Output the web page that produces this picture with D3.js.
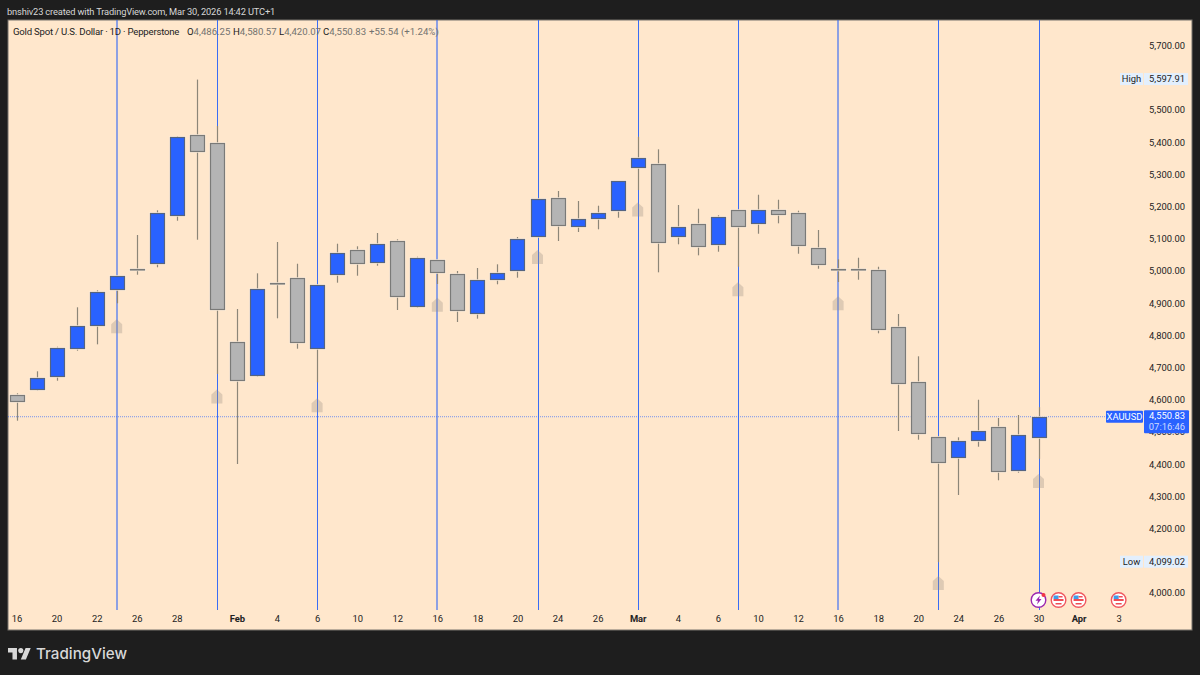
<!DOCTYPE html>
<html>
<head>
<meta charset="utf-8">
<script src="https://cdn.jsdelivr.net/npm/d3@7"></script>
<style>
  html, body { margin: 0; padding: 0; background: #1e1e1e; }
  svg { display: block; }
  text { font-family: Roboto, sans-serif; }
</style>
</head>
<body>
<script>
// OHLC diario
const barIndex = d3.range(52);
const opens  = [4617.4,4636.0,4674.2,4760.2,4831.6,4944.4,5010.0,5022.9,5173.3,5424.8,5401.8,4782.0,4676.4,4965.8,4981.6,4762.1,4991.0,5069.5,5027.3,5096.6,4891.6,5036.6,4993.1,4870.8,4976.4,5004.3,5109.9,5231.0,5142.2,5165.8,5188.8,5322.3,5334.7,5109.9,5150.3,5085.1,5191.9,5149.3,5191.9,5182.6,5075.7,5009.5,5009.5,5005.5,4829.5,4658.7,4487.9,4420.5,4476.4,4518.0,4383.2,4486.25];
const highs  = [4623.6,4691.9,4768.3,4890.7,4943.4,4988.0,5115.2,5191.9,5422.6,5597.91,5453.7,4885.4,4996.2,5093.4,5026.0,4962.0,5088.2,5080.1,5121.4,5101.8,5047.8,5037.0,5003.4,5012.7,5024.2,5109.0,5229.0,5251.8,5220.8,5206.2,5283.0,5420.5,5381.3,5208.4,5196.9,5176.4,5193.0,5240.3,5224.8,5190.7,5130.7,5039.7,5044.7,5016.7,4869.8,4738.5,4490.0,4486.9,4603.7,4546.9,4556.2,4580.57];
const lows   = [4538.5,4631.6,4662.7,4755.9,4775.7,4903.1,4991.9,5014.9,5159.6,5100.6,4683.5,4404.0,4674.2,4856.5,4762.1,4657.7,4967.1,4988.8,5019.8,4882.3,4888.5,4963.0,4845.0,4855.3,4962.1,4982.6,5108.0,5096.6,5124.5,5132.9,5168.9,5255.0,4999.3,5086.3,5052.1,5063.3,5016.7,5119.2,5151.5,5057.1,5010.5,4969.2,4976.4,4809.9,4506.5,4479.5,4099.02,4307.7,4457.7,4353.4,4377.0,4420.07];
const closes = [4596.6,4672.0,4764.3,4831.6,4938.2,4986.9,5009.0,5182.6,5418.6,5370.8,4882.3,4660.8,4947.5,4965.0,4780.7,4960.8,5059.3,5025.1,5086.3,4921.7,5043.8,4995.0,4877.0,4976.4,4998.1,5103.7,5227.9,5144.1,5165.8,5184.4,5282.0,5353.4,5089.4,5141.0,5080.1,5171.1,5137.9,5193.7,5177.3,5080.1,5022.9,5008.0,5008.0,4820.2,4651.5,4497.2,4407.1,4474.5,4506.5,4379.2,4495.0,4550.83];

// Linhas verticais e setas
const lineBars = [5,10,15,21,26,31,36,41,46,51];
const markerPrices = [4830,4612,4585,4897,5045,5193,4945,4902,4033,4350];

// Eixos
const priceTicks = d3.range(4000, 5800, 100);
const timeTickBars = [0,2,4,6,8,11,13,15,17,19,21,23,25,27,29,31,33,35,37,39,41,43,45,47,49,51,53,55];
const timeTickLabels = ["16","20","22","26","28","Feb","4","6","10","12","16","18","20","24","26","Mar","4","6","10","12","16","18","20","24","26","30","Apr","3"];
const boldLabels = ["Feb","Mar","Apr"];
const flagBars = [52,53,55];

const lastPrice = 4550.83, highPrice = 5597.91, lowPrice = 4099.02;

const plot = {left: 8, top: 20, right: 1192, bottom: 630};
const blue = "#2962ff", bodyGray = "#b4b4b4", edge = "#7a7a78", wick = "#8c8678";
const axisSize = 9.4;

const svg = d3.select("body").append("svg").attr("width", 1200).attr("height", 675);

const x = d3.scaleLinear().domain([0, 51]).range([16.5, 1038.5]);
const y = d3.scaleLinear().domain([4000, 5700]).range([594.1, 46.7]);
const px = v => Math.round(x(v)) + 0.5;
const bodyTop = d => Math.round(y(Math.max(opens[d], closes[d]))) + 0.5;
const bodyHeight = d => Math.max(0.5, Math.round(Math.abs(y(opens[d]) - y(closes[d]))) - 1);

svg.append("rect").attr("x", plot.left).attr("y", plot.top)
  .attr("width", plot.right - plot.left).attr("height", plot.bottom - plot.top)
  .attr("fill", "#ffe7cc").attr("stroke", "#77736d").attr("stroke-width", 1);

// Titulo
svg.append("text").attr("x", 7).attr("y", 14.5).attr("fill", "#d6d6d6").attr("font-size", 9.3)
  .attr("letter-spacing", -0.16)
  .text("bnshiv23 created with TradingView.com, Mar 30, 2026 14:42 UTC+1");

// Linhas verticais (algumas caem entre dois pixels na referencia)
svg.append("g").selectAll("line").data(lineBars).enter().append("line")
  .attr("x1", d => [5,21,41].includes(d) ? Math.round(x(d)) : px(d))
  .attr("x2", d => [5,21,41].includes(d) ? Math.round(x(d)) : px(d))
  .attr("y1", plot.top).attr("y2", 610)
  .attr("stroke", "#2f66f5")
  .attr("stroke-width", d => [5,21,41].includes(d) ? 2 : 1)
  .attr("stroke-opacity", d => [5,21,41].includes(d) ? 0.55 : 0.95);

// Linha do preco atual
svg.append("line").attr("x1", plot.left).attr("x2", 1107)
  .attr("y1", y(lastPrice)).attr("y2", y(lastPrice))
  .attr("stroke", "#2962ff").attr("stroke-opacity", 0.65)
  .attr("stroke-dasharray", "1 1").attr("stroke-width", 1);

// Candles
const candles = svg.append("g").selectAll("g").data(barIndex).enter().append("g");
candles.append("line")
  .attr("x1", d => px(d)).attr("x2", d => px(d))
  .attr("y1", d => y(highs[d])).attr("y2", d => y(lows[d]))
  .attr("stroke", wick).attr("stroke-width", 1.2);
candles.append("rect")
  .attr("x", d => px(d) - 7).attr("width", 14)
  .attr("y", bodyTop).attr("height", bodyHeight)
  .attr("fill", "none").attr("stroke", "#fff0dd").attr("stroke-width", 2.4);
candles.append("rect")
  .attr("x", d => px(d) - 7).attr("width", 14)
  .attr("y", bodyTop).attr("height", bodyHeight)
  .attr("fill", d => closes[d] >= opens[d] ? blue : bodyGray)
  .attr("stroke", d => closes[d] >= opens[d] ? "#56647f" : edge)
  .attr("stroke-width", 1.2);

// Setas
svg.append("g").selectAll("path").data(lineBars).enter().append("path")
  .attr("transform", (d, i) => "translate(" + x(d) + "," + y(markerPrices[i]) + ")")
  .attr("d", "M0,-7.5L5.5,-2.5V6.5H-5.5V-2.5Z")
  .attr("fill", "#9c8f82").attr("fill-opacity", 0.33);

// Eixo de precos
const yAxis = svg.append("g").attr("transform", "translate(1185,0)")
  .call(d3.axisLeft(y).tickValues(priceTicks).tickSize(0).tickPadding(0).tickFormat(d3.format(",.2f")));
yAxis.select(".domain").remove();
yAxis.selectAll("text").attr("font-size", axisSize).attr("fill", "#222").attr("dy", "0.2em")
  .style("font-family", "Roboto, sans-serif");

// Eixo de tempo
const xAxis = svg.append("g").attr("transform", "translate(0,615.5)")
  .call(d3.axisBottom(x).tickValues(timeTickBars).tickSize(0).tickPadding(0)
    .tickFormat((d, i) => timeTickLabels[i]));
xAxis.select(".domain").remove();
xAxis.selectAll("text").attr("font-size", axisSize).attr("fill", "#222")
  .attr("font-weight", (d, i) => boldLabels.includes(timeTickLabels[i]) ? 700 : 400)
  .style("font-family", "Roboto, sans-serif");

// Etiquetas High / Low
[["High", highPrice], ["Low", lowPrice]].forEach(([name, price]) => {
  const cy = y(price) - 0.5;
  svg.append("rect").attr("x", 1120).attr("y", cy - 6).attr("width", 23).attr("height", 12).attr("fill", "#e3effd");
  svg.append("rect").attr("x", 1144).attr("y", cy - 6).attr("width", 44).attr("height", 12).attr("fill", "#e3effd");
  svg.append("text").attr("x", 1131.5).attr("y", cy + 3.3).attr("text-anchor", "middle")
    .attr("font-size", axisSize).attr("fill", "#222").text(name);
  svg.append("text").attr("x", 1185).attr("y", cy + 3.3).attr("text-anchor", "end")
    .attr("font-size", axisSize).attr("fill", "#222").text(d3.format(",.2f")(price));
});

// Etiqueta do preco atual
const lastY = y(lastPrice);
svg.append("rect").attr("x", 1106).attr("y", lastY - 6).attr("width", 37).attr("height", 12).attr("fill", blue).attr("rx", 1);
svg.append("rect").attr("x", 1144).attr("y", lastY - 6.5).attr("width", 45).attr("height", 23).attr("fill", blue).attr("rx", 1);
svg.append("text").attr("x", 1124.5).attr("y", lastY + 3.3).attr("text-anchor", "middle")
  .attr("font-size", axisSize).attr("fill", "#ffffff").text("XAUUSD");
svg.append("text").attr("x", 1185).attr("y", lastY + 2.5).attr("text-anchor", "end")
  .attr("font-size", axisSize).attr("fill", "#ffffff").text(d3.format(",.2f")(lastPrice));
svg.append("text").attr("x", 1185).attr("y", lastY + 13).attr("text-anchor", "end")
  .attr("font-size", axisSize).attr("fill", "#cfdcff").text("07:16:46");

// Legenda
const legendY = 34.5;
svg.append("text").attr("x", 13).attr("y", legendY).attr("font-size", 9.6).attr("fill", "#222")
  .attr("letter-spacing", -0.21)
  .text("Gold Spot / U.S. Dollar · 1D · Pepperstone");
const legendKeys = ["O","H","L","C"];
const legendVals = ["4,486.25","4,580.57","4,420.07","4,550.83"];
const legendX = [187,233,279,323];
legendKeys.forEach((k, i) => {
  const t = svg.append("text").attr("x", legendX[i]).attr("y", legendY).attr("font-size", 9.6).attr("fill", "#222");
  t.append("tspan").text(k);
  t.append("tspan").attr("fill", "#74736f").text(legendVals[i]);
});
svg.append("text").attr("x", 369).attr("y", legendY).attr("font-size", 9.6).attr("fill", "#74736f").text("+55.54 (+1.24%)");

// Icones de eventos
const flag = svg.append("g").selectAll("g").data(flagBars).enter().append("g")
  .attr("transform", d => "translate(" + x(d) + ",600)");
flag.append("circle").attr("r", 7.3).attr("fill", "#ffffff").attr("stroke", "#f0575f").attr("stroke-width", 1.4);
flag.append("path").attr("d", "M-5,-1H5V1H-5ZM-3,3H3V4.5H-3Z").attr("fill", "#ef4d55");
flag.append("path").attr("d", "M-5,-4.5H0V-1H-5Z").attr("fill", "#3f9be8");
flag.append("path").attr("d", "M0,-4H4V-2.5H0Z").attr("fill", "#ef4d55");

const flash = svg.append("g").attr("transform", "translate(" + x(51) + ",600)");
flash.append("circle").attr("r", 7.3).attr("fill", "#ffffff").attr("stroke", "#9c27b0").attr("stroke-width", 1.4);
flash.append("path").attr("d", "M1.5,-4.5L-3,0.8H-0.5L-1.5,4.5L3,-1H0.5Z").attr("fill", "#9c27b0");
flash.append("circle").attr("cx", 5).attr("cy", -5).attr("r", 2).attr("fill", "#f23645");

// Logo TradingView
const logo = svg.append("g").attr("transform", "translate(8,645.5) scale(0.64)");
logo.append("path").attr("d", "M14 22H7V11H0V4h14v18zM28 22h-8l7.5-18h8L28 22z").attr("fill", "#d8d8d8");
logo.append("circle").attr("cx", 20).attr("cy", 8).attr("r", 4).attr("fill", "#d8d8d8");
svg.append("text").attr("x", 36).attr("y", 658.5).attr("font-size", 15.2).attr("font-weight", 500)
  .attr("fill", "#d8d8d8").style("font-family", "Inter, sans-serif").text("TradingView");
</script>
</body>
</html>
